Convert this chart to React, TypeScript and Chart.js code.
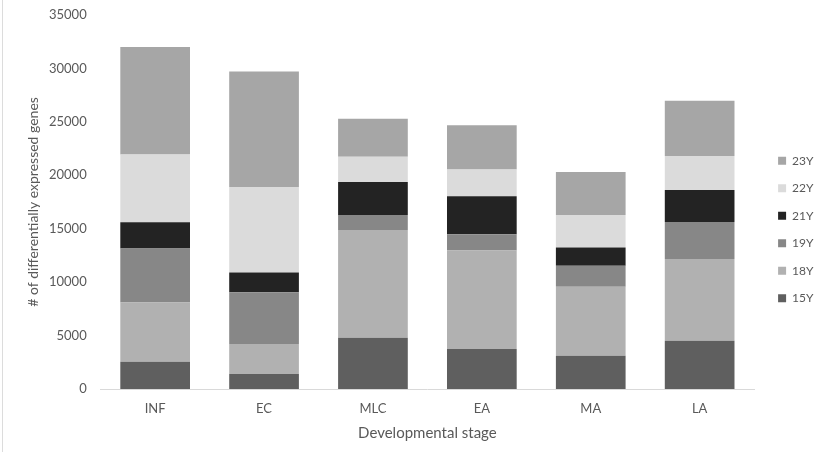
import React, { useEffect, useRef } from "react";
import { Chart, registerables } from "chart.js";

Chart.register(...registerables);

const categories = ["INF", "EC", "MLC", "EA", "MA", "LA"];
const s15Y = [2550, 1400, 4800, 3750, 3120, 4520];
const s18Y = [5550, 2800, 10080, 9200, 6450, 7650];
const s19Y = [5050, 4850, 1400, 1530, 1960, 3460];
const s21Y = [2450, 1850, 3090, 3560, 1720, 2990];
const s22Y = [6350, 8000, 2370, 2500, 3030, 3180];
const s23Y = [10050, 10800, 3560, 4150, 4020, 5180];
const seriesLabels = ["15Y", "18Y", "19Y", "21Y", "22Y", "23Y"];
const seriesColors = ["#5f5f5f", "#b1b1b1", "#878787", "#232323", "#dbdbdb", "#a6a6a6"];
const yTicksMax = 35000;
const yTickStep = 5000;

const FONT = "Lato, 'Open Sans', sans-serif";
const TEXT = "#595959";

const legendShift = {
  id: "legendShift",
  afterLayout(chart: any) {
    const l = chart.legend;
    if (l) {
      l.top += 7.5;
      l.bottom += 7.5;
    }
  },
};

export default function App() {
  const ref = useRef<HTMLCanvasElement | null>(null);

  useEffect(() => {
    if (!ref.current) return;
    const seriesValues = [s15Y, s18Y, s19Y, s21Y, s22Y, s23Y];
    const chart = new Chart(ref.current, {
      type: "bar",
      data: {
        labels: categories,
        datasets: seriesLabels.map((label, i) => ({
          label,
          data: seriesValues[i],
          backgroundColor: seriesColors[i],
          borderWidth: 0,
          categoryPercentage: 0.8,
          barPercentage: 0.8,
        })),
      },
      plugins: [legendShift],
      options: {
        responsive: false,
        animation: false,
        layout: { padding: { top: 2, left: 25, right: -1.5, bottom: 10 } },
        plugins: {
          tooltip: { enabled: false },
          legend: {
            position: "right",
            reverse: true,
            labels: {
              boxWidth: 8,
              boxHeight: 8,
              padding: 15.5,
              color: TEXT,
              font: { family: FONT, size: 12 },
            },
          },
        },
        scales: {
          x: {
            stacked: true,
            grid: { display: false, drawTicks: false },
            border: { display: true, color: "#d9d9d9", width: 1 },
            ticks: { color: TEXT, padding: 12, font: { family: FONT, size: 13 } },
            title: {
              display: true,
              text: "Developmental stage",
              color: TEXT,
              font: { family: FONT, size: 15 },
              padding: { top: -4.6, bottom: 0 },
            },
          },
          y: {
            stacked: true,
            min: 0,
            max: yTicksMax,
            grid: { display: false, drawTicks: false },
            border: { display: false },
            ticks: {
              stepSize: yTickStep,
              color: TEXT,
              padding: 14,
              font: { family: FONT, size: 13, lineHeight: 0.15 },
              callback: (v: any) => String(v),
            },
            title: {
              display: true,
              text: "# of differentially expressed genes",
              color: TEXT,
              font: { family: FONT, size: 14 },
              padding: { top: 0, bottom: -6.8 },
            },
          },
          spacer: {
            type: "linear",
            position: "right",
            display: true,
            grid: { display: false, drawTicks: false },
            border: { display: false },
            ticks: { display: false },
            afterFit: (scale: any) => {
              scale.width = 8.5;
            },
          },
        },
      },
    } as any);
    return () => chart.destroy();
  }, []);

  return (
    <div style={{ position: "absolute", left: 0, top: 0, width: 822, height: 452, background: "#fff" }}>
      <div style={{ position: "absolute", left: 2, top: 0, width: 1, height: 452, background: "#dcdcdc" }} />
      <canvas ref={ref} width={822} height={452} style={{ display: "block" }} />
    </div>
  );
}
